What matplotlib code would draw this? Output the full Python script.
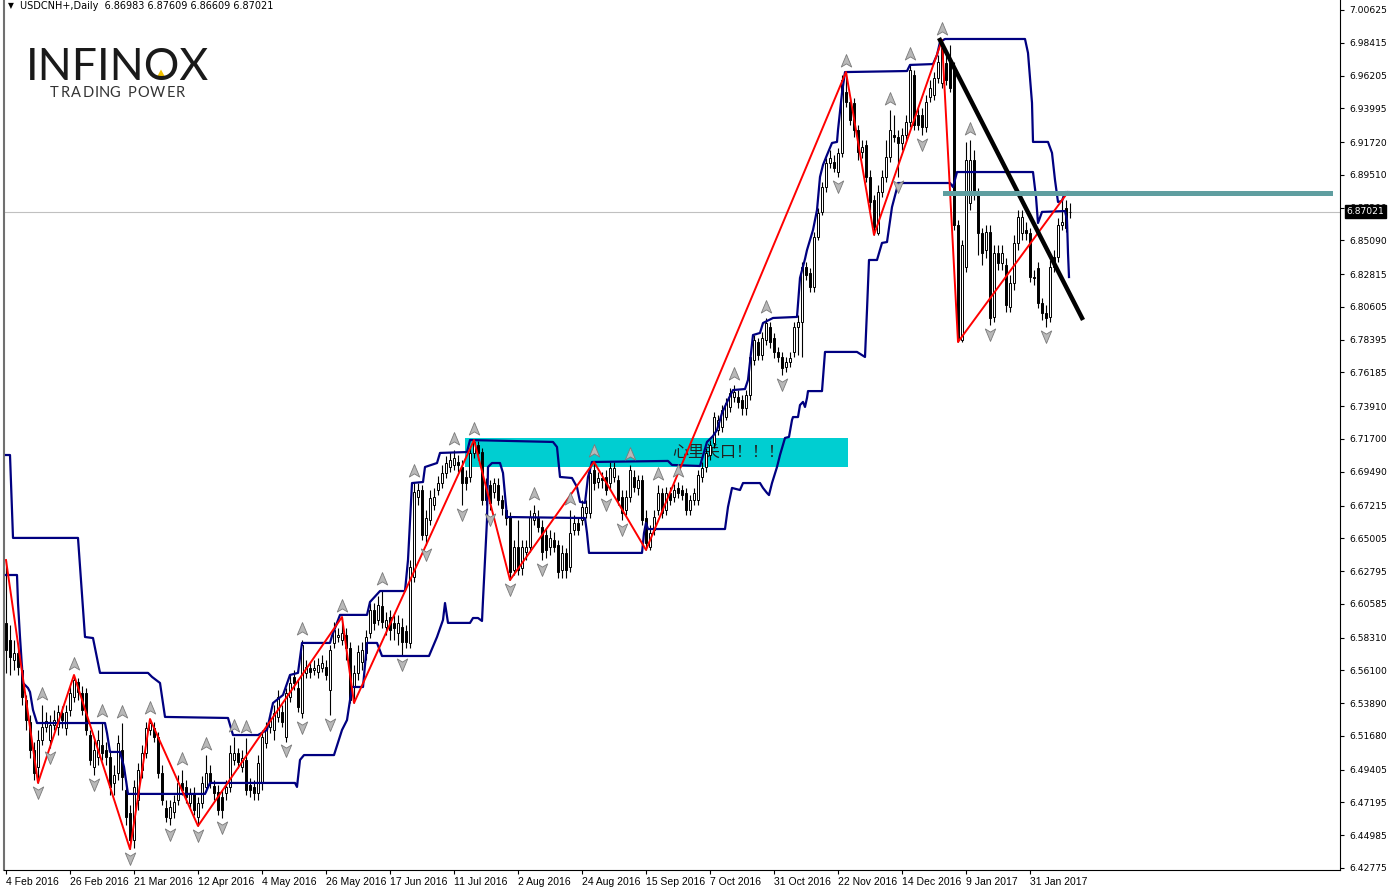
import numpy as np
import matplotlib.pyplot as plt
from matplotlib.patches import Rectangle, Polygon
from matplotlib.path import Path
from matplotlib.transforms import blended_transform_factory
from matplotlib.font_manager import FontProperties
from matplotlib.textpath import TextPath

plt.rcParams['font.family'] = ['DejaVu Sans']

# USDCNH+ daily bars, 4 Feb 2016 .. 7 Feb 2017
opens = [
    6.5930, 6.5815, 6.5680, 6.5727, 6.5613, 6.5410, 6.5262, 6.5073, 6.4959, 6.5141,
    6.5228, 6.5141, 6.5242, 6.5228, 6.5323, 6.5222, 6.5343, 6.5431, 6.5532, 6.5458,
    6.5458, 6.5174, 6.4959, 6.5026, 6.5107, 6.5073, 6.5026, 6.4851, 6.4918, 6.5073,
    6.4804, 6.4649, 6.4466, 6.4736, 6.4938, 6.5053, 6.5208, 6.5222, 6.5161, 6.4918,
    6.4682, 6.4615, 6.4655, 6.4736, 6.4851, 6.4824, 6.4716, 6.4784, 6.4622, 6.4716,
    6.4824, 6.4918, 6.4831, 6.4790, 6.4757, 6.4784, 6.4824, 6.5006, 6.5053, 6.4959,
    6.5006, 6.4838, 6.4824, 6.4784, 6.4851, 6.5121, 6.5228, 6.5208, 6.5296, 6.5330,
    6.5161, 6.5431, 6.5566, 6.5491, 6.5323, 6.5593, 6.5626, 6.5613, 6.5599, 6.5626,
    6.5633, 6.5478, 6.5795, 6.5835, 6.5815, 6.5849, 6.5761, 6.5498, 6.5593, 6.5667,
    6.5727, 6.5862, 6.6017, 6.5950, 6.6044, 6.5903, 6.5970, 6.5930, 6.5862, 6.5903,
    6.5876, 6.5795, 6.6240, 6.6779, 6.6826, 6.6523, 6.6624, 6.6725, 6.6826, 6.6873,
    6.6941, 6.6981, 6.6995, 6.7015, 6.6981, 6.6914, 6.6914, 6.7076, 6.7130, 6.7082,
    6.6873, 6.6860, 6.6813, 6.6860, 6.6759, 6.6691, 6.6644, 6.6287, 6.6442, 6.6300,
    6.6408, 6.6442, 6.6624, 6.6644, 6.6577, 6.6523, 6.6442, 6.6489, 6.6455, 6.6287,
    6.6402, 6.6307, 6.6557, 6.6604, 6.6624, 6.6671, 6.6671, 6.6961, 6.6880, 6.6907,
    6.6914, 6.6873, 6.6914, 6.6894, 6.6779, 6.6691, 6.6779, 6.6914, 6.6840, 6.6894,
    6.6637, 6.6442, 6.6557, 6.6691, 6.6806, 6.6691, 6.6806, 6.6779, 6.6840, 6.6826,
    6.6806, 6.6691, 6.6759, 6.6759, 6.6914, 6.6981, 6.7062, 6.7143, 6.7231, 6.7251,
    6.7318, 6.7386, 6.7453, 6.7453, 6.7433, 6.7379, 6.7467, 6.7703, 6.7824, 6.7736,
    6.7838, 6.7925, 6.7851, 6.7757, 6.7723, 6.7655, 6.7689, 6.7757, 6.7925, 6.7959,
    6.8330, 6.8289, 6.8195, 6.8532, 6.8701, 6.8869, 6.9031, 6.9038, 6.8970, 6.9099,
    6.9510, 6.9442, 6.9436, 6.9253, 6.9105, 6.9152, 6.8937, 6.8781, 6.8559, 6.8835,
    6.8937, 6.9072, 6.9220, 6.9206, 6.9166, 6.9220, 6.9307, 6.9624, 6.9355, 6.9355,
    6.9274, 6.9476, 6.9490, 6.9604, 6.9571, 6.9705, 6.9725, 6.9671, 6.8613, 6.7838,
    6.8330, 6.8761, 6.9051, 6.8829, 6.8559, 6.8444, 6.8566, 6.7993, 6.8424, 6.8357,
    6.8343, 6.8060, 6.8222, 6.8492, 6.8559, 6.8579, 6.8559, 6.8263, 6.8323, 6.8087,
    6.8020, 6.7993, 6.8397, 6.8397, 6.8613, 6.8727, 6.86983,
]
highs = [
    6.6354, 6.5916, 6.5815, 6.5781, 6.5646, 6.5444, 6.5309, 6.5128, 6.5208, 6.5376,
    6.5330, 6.5309, 6.5343, 6.5376, 6.5370, 6.5376, 6.5505, 6.5579, 6.5559, 6.5505,
    6.5491, 6.5208, 6.5141, 6.5208, 6.5262, 6.5128, 6.5073, 6.4972, 6.5174, 6.5255,
    6.4871, 6.4702, 6.4871, 6.4986, 6.5107, 6.5262, 6.5282, 6.5262, 6.5195, 6.4972,
    6.4736, 6.4736, 6.4770, 6.4904, 6.4938, 6.4871, 6.4817, 6.4824, 6.4757, 6.4898,
    6.5039, 6.4972, 6.4871, 6.4838, 6.4804, 6.4871, 6.5107, 6.5161, 6.5087, 6.5073,
    6.5154, 6.4884, 6.4871, 6.5039, 6.5208, 6.5262, 6.5330, 6.5376, 6.5478, 6.5376,
    6.5491, 6.5579, 6.5613, 6.5545, 6.5815, 6.5680, 6.5667, 6.5680, 6.5693, 6.5714,
    6.5680, 6.5781, 6.5936, 6.5896, 6.5970, 6.5896, 6.5801, 6.5646, 6.5781, 6.5801,
    6.5882, 6.6065, 6.6065, 6.6112, 6.6152, 6.6004, 6.6017, 6.5984, 6.5984, 6.5963,
    6.5916, 6.6354, 6.6880, 6.6873, 6.6860, 6.6691, 6.6826, 6.6840, 6.6921, 6.6995,
    6.7056, 6.7082, 6.7096, 6.7062, 6.7028, 6.6961, 6.7109, 6.7163, 6.7157, 6.7109,
    6.6907, 6.6894, 6.6907, 6.6907, 6.6792, 6.6725, 6.6678, 6.6489, 6.6624, 6.6489,
    6.6489, 6.6691, 6.6725, 6.6691, 6.6624, 6.6570, 6.6557, 6.6543, 6.6489, 6.6455,
    6.6435, 6.6691, 6.6658, 6.6637, 6.6759, 6.6759, 6.6975, 6.7015, 6.6948, 6.6948,
    6.6961, 6.7015, 6.7015, 6.6928, 6.6826, 6.6826, 6.6995, 6.6961, 6.6928, 6.6928,
    6.6691, 6.6590, 6.6691, 6.6860, 6.6840, 6.6846, 6.6846, 6.6867, 6.6880, 6.6860,
    6.6840, 6.6792, 6.6840, 6.6961, 6.7015, 6.7109, 6.7163, 6.7352, 6.7332, 6.7399,
    6.7446, 6.7514, 6.7534, 6.7500, 6.7467, 6.7500, 6.7757, 6.7871, 6.7851, 6.7892,
    6.7986, 6.7959, 6.7885, 6.7790, 6.7757, 6.7723, 6.7757, 6.7959, 6.8006, 6.8364,
    6.8364, 6.8323, 6.8566, 6.8727, 6.8903, 6.9065, 6.9119, 6.9085, 6.9132, 6.9624,
    6.9644, 6.9476, 6.9469, 6.9287, 6.9186, 6.9186, 6.8984, 6.8815, 6.8882, 6.8984,
    6.9186, 6.9388, 6.9355, 6.9253, 6.9267, 6.9355, 6.9692, 6.9658, 6.9402, 6.9402,
    6.9490, 6.9591, 6.9644, 6.9759, 6.9860, 6.9759, 6.9826, 6.9712, 6.8647, 6.8512,
    6.9173, 6.9186, 6.9119, 6.8862, 6.8593, 6.8613, 6.8613, 6.8478, 6.8478, 6.8478,
    6.8390, 6.8276, 6.8546, 6.8714, 6.8714, 6.8633, 6.8593, 6.8309, 6.8364, 6.8121,
    6.8073, 6.8377, 6.8444, 6.8660, 6.8781, 6.8781, 6.87609,
]
lows = [
    6.5593, 6.5579, 6.5613, 6.5579, 6.5376, 6.5208, 6.5019, 6.4871, 6.4851, 6.5107,
    6.5195, 6.5087, 6.5208, 6.5174, 6.5222, 6.5174, 6.5302, 6.5397, 6.5410, 6.5309,
    6.5174, 6.4972, 6.4904, 6.4972, 6.5006, 6.4972, 6.4770, 6.4770, 6.4871, 6.4804,
    6.4567, 6.4405, 6.4412, 6.4669, 6.4884, 6.5019, 6.5174, 6.5128, 6.4884, 6.4702,
    6.4588, 6.4567, 6.4615, 6.4702, 6.4770, 6.4716, 6.4682, 6.4635, 6.4561, 6.4682,
    6.4790, 6.4817, 6.4736, 6.4635, 6.4615, 6.4736, 6.4790, 6.4972, 6.4952, 6.4925,
    6.4770, 6.4757, 6.4736, 6.4736, 6.4804, 6.5087, 6.5188, 6.5141, 6.5262, 6.5228,
    6.5128, 6.5397, 6.5478, 6.5330, 6.5289, 6.5559, 6.5559, 6.5579, 6.5559, 6.5599,
    6.5545, 6.5309, 6.5761, 6.5801, 6.5781, 6.5680, 6.5390, 6.5390, 6.5545, 6.5613,
    6.5680, 6.5828, 6.5882, 6.5916, 6.5896, 6.5849, 6.5815, 6.5815, 6.5781, 6.5714,
    6.5761, 6.5761, 6.6206, 6.6725, 6.6489, 6.6455, 6.6590, 6.6691, 6.6792, 6.6840,
    6.6907, 6.6947, 6.6961, 6.6947, 6.6725, 6.6826, 6.6880, 6.7042, 6.7028, 6.6725,
    6.6725, 6.6691, 6.6772, 6.6725, 6.6658, 6.6590, 6.6219, 6.6253, 6.6253, 6.6253,
    6.6354, 6.6408, 6.6590, 6.6543, 6.6354, 6.6368, 6.6388, 6.6408, 6.6233, 6.6233,
    6.6233, 6.6274, 6.6523, 6.6523, 6.6590, 6.6637, 6.6637, 6.6826, 6.6840, 6.6840,
    6.6792, 6.6826, 6.6880, 6.6725, 6.6624, 6.6658, 6.6745, 6.6813, 6.6792, 6.6590,
    6.6422, 6.6422, 6.6523, 6.6658, 6.6637, 6.6658, 6.6725, 6.6745, 6.6772, 6.6759,
    6.6658, 6.6658, 6.6725, 6.6725, 6.6880, 6.6947, 6.7028, 6.7109, 6.7197, 6.7217,
    6.7298, 6.7352, 6.7420, 6.7379, 6.7332, 6.7332, 6.7433, 6.7669, 6.7703, 6.7703,
    6.7804, 6.7784, 6.7716, 6.7689, 6.7602, 6.7622, 6.7655, 6.7723, 6.7736, 6.7723,
    6.8242, 6.8161, 6.8161, 6.8512, 6.8680, 6.8835, 6.8997, 6.8970, 6.8937, 6.9072,
    6.9409, 6.9287, 6.9206, 6.9051, 6.9065, 6.8903, 6.8714, 6.8546, 6.8546, 6.8802,
    6.8903, 6.9038, 6.9173, 6.8937, 6.9119, 6.9186, 6.9274, 6.9253, 6.9253, 6.9220,
    6.9240, 6.9442, 6.9456, 6.9571, 6.9537, 6.9557, 6.9510, 6.8579, 6.7824, 6.7824,
    6.8296, 6.8714, 6.8781, 6.8411, 6.8343, 6.8390, 6.7939, 6.7959, 6.8309, 6.8309,
    6.8026, 6.8026, 6.8175, 6.8444, 6.8512, 6.8512, 6.8229, 6.8208, 6.8053, 6.7972,
    6.7925, 6.7959, 6.8296, 6.8364, 6.8579, 6.8566, 6.86609,
]
closes = [
    6.5747, 6.5700, 6.5727, 6.5633, 6.5431, 6.5275, 6.5073, 6.4918, 6.5141, 6.5228,
    6.5269, 6.5242, 6.5275, 6.5330, 6.5275, 6.5330, 6.5458, 6.5545, 6.5464, 6.5343,
    6.5208, 6.5006, 6.5073, 6.5141, 6.5053, 6.5026, 6.4824, 6.4904, 6.5121, 6.4891,
    6.4622, 6.4466, 6.4824, 6.4938, 6.5053, 6.5222, 6.5255, 6.5161, 6.4918, 6.4736,
    6.4622, 6.4689, 6.4723, 6.4851, 6.4804, 6.4757, 6.4784, 6.4669, 6.4716, 6.4851,
    6.4918, 6.4851, 6.4784, 6.4669, 6.4669, 6.4824, 6.5053, 6.5053, 6.4992, 6.5019,
    6.4804, 6.4804, 6.4784, 6.4986, 6.5161, 6.5208, 6.5275, 6.5323, 6.5431, 6.5262,
    6.5458, 6.5525, 6.5525, 6.5363, 6.5781, 6.5633, 6.5599, 6.5626, 6.5646, 6.5660,
    6.5579, 6.5747, 6.5882, 6.5849, 6.5862, 6.5761, 6.5410, 6.5593, 6.5734, 6.5747,
    6.5835, 6.6017, 6.5930, 6.6051, 6.5936, 6.5950, 6.5882, 6.5896, 6.5930, 6.5801,
    6.5801, 6.6307, 6.6813, 6.6826, 6.6523, 6.6637, 6.6772, 6.6779, 6.6873, 6.6941,
    6.7008, 6.7028, 6.7042, 6.6995, 6.6873, 6.6873, 6.7076, 6.7150, 6.7076, 6.6759,
    6.6759, 6.6739, 6.6873, 6.6759, 6.6705, 6.6637, 6.6274, 6.6442, 6.6287, 6.6442,
    6.6442, 6.6644, 6.6671, 6.6577, 6.6408, 6.6422, 6.6503, 6.6442, 6.6274, 6.6402,
    6.6287, 6.6536, 6.6604, 6.6557, 6.6712, 6.6712, 6.6941, 6.6873, 6.6907, 6.6894,
    6.6826, 6.6975, 6.6975, 6.6759, 6.6671, 6.6779, 6.6961, 6.6846, 6.6894, 6.6624,
    6.6469, 6.6536, 6.6644, 6.6806, 6.6671, 6.6806, 6.6759, 6.6826, 6.6806, 6.6792,
    6.6691, 6.6759, 6.6806, 6.6928, 6.6975, 6.7076, 6.7130, 6.7318, 6.7298, 6.7366,
    6.7413, 6.7480, 6.7487, 6.7420, 6.7379, 6.7467, 6.7723, 6.7838, 6.7736, 6.7851,
    6.7952, 6.7824, 6.7757, 6.7723, 6.7649, 6.7689, 6.7716, 6.7925, 6.7959, 6.8330,
    6.8276, 6.8195, 6.8532, 6.8694, 6.8869, 6.9031, 6.9065, 6.8997, 6.9099, 6.9591,
    6.9442, 6.9321, 6.9253, 6.9105, 6.9139, 6.8937, 6.8768, 6.8599, 6.8835, 6.8937,
    6.9072, 6.9253, 6.9206, 6.9166, 6.9220, 6.9307, 6.9658, 6.9287, 6.9287, 6.9274,
    6.9442, 6.9537, 6.9604, 6.9712, 6.9806, 6.9591, 6.9537, 6.8613, 6.7838, 6.8478,
    6.9051, 6.9051, 6.8829, 6.8559, 6.8424, 6.8566, 6.7986, 6.8424, 6.8357, 6.8424,
    6.8073, 6.8222, 6.8492, 6.8667, 6.8667, 6.8559, 6.8263, 6.8256, 6.8087, 6.8020,
    6.7986, 6.8330, 6.8330, 6.8613, 6.8633, 6.8593, 6.87021,
]

date_labels = ['4 Feb 2016', '26 Feb 2016', '21 Mar 2016', '12 Apr 2016', '4 May 2016',
               '26 May 2016', '17 Jun 2016', '11 Jul 2016', '2 Aug 2016', '24 Aug 2016',
               '15 Sep 2016', '7 Oct 2016', '31 Oct 2016', '22 Nov 2016', '14 Dec 2016',
               '9 Jan 2017', '31 Jan 2017']
price_ticks = [7.00625, 6.98415, 6.96205, 6.93995, 6.91720, 6.89510, 6.87300, 6.85090,
               6.82815, 6.80605, 6.78395, 6.76185, 6.73910, 6.71700, 6.69490, 6.67215,
               6.65005, 6.62795, 6.60585, 6.58310, 6.56100, 6.53890, 6.51680, 6.49405,
               6.47195, 6.44985, 6.42775]

# zigzag pivots (bar index, price)
zz_bars = [0, 8, 17, 31, 36, 48, 84, 87, 117, 126, 147, 160, 210, 217, 234, 238, 265.5]
zz_prices = [6.6354, 6.4851, 6.5579, 6.4405, 6.5282, 6.4561, 6.5970, 6.5390, 6.7163,
             6.6219, 6.7015, 6.6422, 6.9644, 6.8546, 6.9860, 6.7824, 6.8835]

# upper channel line
chan_up_bars = [0, 1, 1.75, 18, 19.75, 21.75, 23.5, 35.5, 36.5, 38.5, 39.75, 55.5, 56.75, 63,
                65.25, 66.75, 69.25, 71, 73, 74, 81, 81.5, 83.5, 90.25, 91, 93.5, 99.75,
                100.5, 101.5, 104.25, 104.75, 107.75, 108.5, 115.25, 116, 136.75, 137.75,
                138.5, 141.5, 142.75, 143.5, 144.75, 145.5, 146.5, 165.5, 166.5, 173.5,
                175.25, 176.75, 177.75, 179, 180.5, 181.75, 184.75, 185.5, 186.75, 188.5,
                189.25, 191.75, 197.75, 198.5, 199.75, 200.25, 201.75, 202.75, 203.5,
                204.25, 205.25, 206.5, 207.75, 208, 209, 209.75, 225.25, 226, 231.75,
                232.75, 233.5, 234.75, 254.75, 255.5, 256.5, 256.75, 260.5, 261.5, 262.25,
                263, 264, 264.75, 265.75]
chan_up = [6.7062, 6.7062, 6.6503, 6.6503, 6.5835, 6.5828, 6.5593, 6.5593, 6.5566, 6.5525,
           6.5296, 6.5289, 6.5174, 6.5174, 6.5208, 6.5390, 6.5444, 6.5579, 6.5593, 6.5795,
           6.5795, 6.5842, 6.5984, 6.5984, 6.6071, 6.6145, 6.6145, 6.6354, 6.6873, 6.6880,
           6.6981, 6.7008, 6.7076, 6.7082, 6.7163, 6.7150, 6.7116, 6.6914, 6.6907, 6.6846,
           6.6746, 6.6739, 6.6914, 6.7015, 6.7022, 6.6995, 6.6988, 6.7150, 6.7190, 6.7231,
           6.7345, 6.7433, 6.7500, 6.7507, 6.7568, 6.7871, 6.7885, 6.7952, 6.7986, 6.7993,
           6.8256, 6.8384, 6.8444, 6.8579, 6.8714, 6.8937, 6.9018, 6.9085, 6.9166, 6.9173,
           6.9253, 6.9503, 6.9644, 6.9651, 6.9692, 6.9698, 6.9759, 6.9847, 6.9867, 6.9867,
           6.9773, 6.9436, 6.9173, 6.9173, 6.9099, 6.8916, 6.8768, 6.8775, 6.8835, 6.8835]

# lower channel line
chan_dn_bars = [0, 2.75, 3, 3.5, 4.25, 5.5, 6, 6.75, 7.75, 24.75, 25.25, 26, 28.5, 29.5,
                30.5, 49.75, 51, 72.25, 72.75, 73.5, 74.5, 82, 84, 85.25, 86.5, 89.25,
                90.25, 92.75, 94, 105.75, 107.75, 109.25, 109.75, 110.5, 116, 116.75, 118,
                119, 119.25, 120.25, 120.5, 121.5, 123.5, 124.25, 125.25, 144.75, 145.25,
                145.75, 159, 159.5, 160, 160.5, 179.75, 180.5, 181.5, 183.5, 184.25, 188.5,
                189.25, 190.25, 190.75, 191.5, 192.75, 193.5, 194.75, 195.75, 196.5,
                196.75, 198, 198.5, 199.25, 199.75, 200.25, 200.5, 204, 204.75, 212.75,
                214.75, 215.25, 215.75, 217.75, 219, 220.25, 221.5, 222.75, 223, 236,
                236.75, 237.75, 256.75, 257.5, 258, 259, 264.75, 265.25, 265.5, 265.75]
chan_dn = [6.6253, 6.6253, 6.6064, 6.5835, 6.5525, 6.5491, 6.5464, 6.5343, 6.5255, 6.5255,
           6.5188, 6.5060, 6.5060, 6.4959, 6.4777, 6.4777, 6.4851, 6.4851, 6.4824, 6.5006,
           6.5039, 6.5039, 6.5208, 6.5275, 6.5498, 6.5498, 6.5795, 6.5795, 6.5707, 6.5707,
           6.5835, 6.5950, 6.6064, 6.5930, 6.5930, 6.5963, 6.5963, 6.5943, 6.6085, 6.6624,
           6.6981, 6.7008, 6.7008, 6.6941, 6.6644, 6.6637, 6.6536, 6.6402, 6.6402, 6.6536,
           6.6604, 6.6563, 6.6563, 6.6712, 6.6840, 6.6826, 6.6873, 6.6873, 6.6840, 6.6806,
           6.6792, 6.6873, 6.6981, 6.7062, 6.7177, 6.7184, 6.7298, 6.7318, 6.7318, 6.7399,
           6.7420, 6.7386, 6.7447, 6.7493, 6.7493, 6.7757, 6.7757, 6.7723, 6.8040, 6.8377,
           6.8377, 6.8492, 6.8498, 6.8734, 6.8862, 6.8896, 6.8896, 6.8869, 6.8970, 6.8970,
           6.8802, 6.8626, 6.8701, 6.8707, 6.8647, 6.8424, 6.8262]

trend_bars = [233.5, 269]
trend_prices = [6.9860, 6.7986]
level_bars = [234.75, 331]
level_price = 6.8827
zone_bars = [114.75, 210.5]
zone_prices = [6.6981, 6.7177]
zone_note = '心里关口！！！'
last_price = 6.87021

o = np.array(opens)
h = np.array(highs)
l = np.array(lows)
c = np.array(closes)
x = np.arange(len(c))

fig = plt.figure(figsize=(13.88, 8.92), dpi=100)
ax = fig.add_axes([4 / 1388, 22 / 892, 1336 / 1388, 870 / 892])
ax.set_xlim(-0.5, 333.5)
ax.set_ylim(6.4264, 7.01299)

# background objects
ax.add_patch(Rectangle((zone_bars[0], zone_prices[0]), zone_bars[1] - zone_bars[0],
                       zone_prices[1] - zone_prices[0], facecolor='#00ced1',
                       edgecolor='none', zorder=0.5))
ax.text(166.5, (zone_prices[0] + zone_prices[1]) / 2, zone_note, fontsize=11.5,
        family=['Noto Sans CJK SC', 'DejaVu Sans'], color='#222222',
        va='center', ha='left', zorder=1)
ax.axhline(last_price, color='#c0c0c0', lw=0.8, zorder=0.6)

# candles
ax.vlines(x, l, h, color='black', lw=0.8, zorder=2)
up = c >= o
body_lo = np.minimum(o, c)
body_h = np.maximum(np.abs(c - o), 0.0002)
ax.bar(x[up], body_h[up], bottom=body_lo[up], width=0.6, facecolor='white',
       edgecolor='black', lw=0.7, zorder=2.1)
ax.bar(x[~up], body_h[~up], bottom=body_lo[~up], width=0.6, facecolor='black',
       edgecolor='black', lw=0.7, zorder=2.1)

# indicators
ax.plot(chan_up_bars, chan_up, color='#000080', lw=1.6, zorder=3)
ax.plot(chan_dn_bars, chan_dn, color='#000080', lw=1.6, zorder=3)
ax.plot(zz_bars, zz_prices, color='red', lw=1.4, zorder=3.5)
ax.plot(trend_bars, trend_prices, color='black', lw=3.2, zorder=4)
ax.plot(level_bars, [level_price, level_price], color='#5f9ea0', lw=3.6, zorder=4)

# fractal arrows (notched arrowheads like the terminal icons)
arrow_up = Path([(0, 1), (0.75, -0.8), (0, -0.35), (-0.75, -0.8), (0, 1)],
                [Path.MOVETO, Path.LINETO, Path.LINETO, Path.LINETO, Path.CLOSEPOLY])
arrow_dn = Path([(0, -1), (0.75, 0.8), (0, 0.35), (-0.75, 0.8), (0, -1)],
                [Path.MOVETO, Path.LINETO, Path.LINETO, Path.LINETO, Path.CLOSEPOLY])
n = len(h)
up_fr = [i for i in range(2, n - 2) if h[i] > max(h[i - 2], h[i - 1], h[i + 1], h[i + 2])]
dn_fr = [i for i in range(2, n - 2) if l[i] < min(l[i - 2], l[i - 1], l[i + 1], l[i + 2])]
ax.plot(up_fr, h[up_fr] + 0.0074, linestyle='none', marker=arrow_up, ms=10,
        mfc='#b8b8b8', mec='#7a7a7a', mew=0.6, zorder=5)
ax.plot(dn_fr, l[dn_fr] - 0.0058, linestyle='none', marker=arrow_dn, ms=10,
        mfc='#b8b8b8', mec='#7a7a7a', mew=0.6, zorder=5)

# axes like the terminal
ax.spines['top'].set_visible(False)
ax.spines['left'].set_color('#707070')
ax.spines['left'].set_linewidth(1.5)
ax.yaxis.tick_right()
ax.set_yticks(price_ticks)
ax.set_yticklabels([f'{p:.5f}' for p in price_ticks])
ax.set_xticks(np.arange(len(date_labels)) * 16)
ax.set_xticklabels(date_labels)
for t in ax.get_xticklabels():
    t.set_ha('left')
    t.set_family('Liberation Sans')
    t.set_fontsize(7.5)
ax.tick_params(axis='y', labelsize=6.6, length=3, width=0.8, pad=4)
ax.tick_params(axis='x', length=3, width=0.8, pad=2)

trans = blended_transform_factory(ax.transAxes, ax.transData)
ax.text(1.0048, last_price, f'{last_price:.5f}', transform=trans, color='white',
        fontsize=6.6, va='center', ha='left', clip_on=False, zorder=10,
        bbox=dict(boxstyle='square,pad=0.2', facecolor='black', edgecolor='black'))

# header and logo
fig.text(8 / 1388, 1 - 6 / 892, '▼', fontsize=5.5, va='center', ha='left')
fig.text(20 / 1388, 1 - 6 / 892, 'USDCNH+,Daily  6.86983 6.87609 6.86609 6.87021',
         fontsize=7, va='center', ha='left')
fig.text(26 / 1388, 1 - 80 / 892, 'INFINOX', fontsize=32, family='Lato',
         color='#1a1a1a', va='baseline', ha='left')
tri = [[157.5, 76], [164.5, 76], [161, 69.5]]
fig.add_artist(Polygon([[px / 1388, 1 - py / 892] for px, py in tri], closed=True,
                       transform=fig.transFigure, facecolor='#f2c200',
                       edgecolor='none'))

# letter-spaced tagline
fp = FontProperties(family='Lato', size=10.5)
xpos = 50
for ch in 'TRADING POWER':
    if ch == ' ':
        xpos += 7
        continue
    fig.text(xpos / 1388, 1 - 97 / 892, ch, fontproperties=fp, color='#333333',
             va='baseline', ha='left')
    xpos += TextPath((0, 0), ch, prop=fp).get_extents().width * 100 / 72 + 2.4

fig.savefig('out.png', dpi=100)
